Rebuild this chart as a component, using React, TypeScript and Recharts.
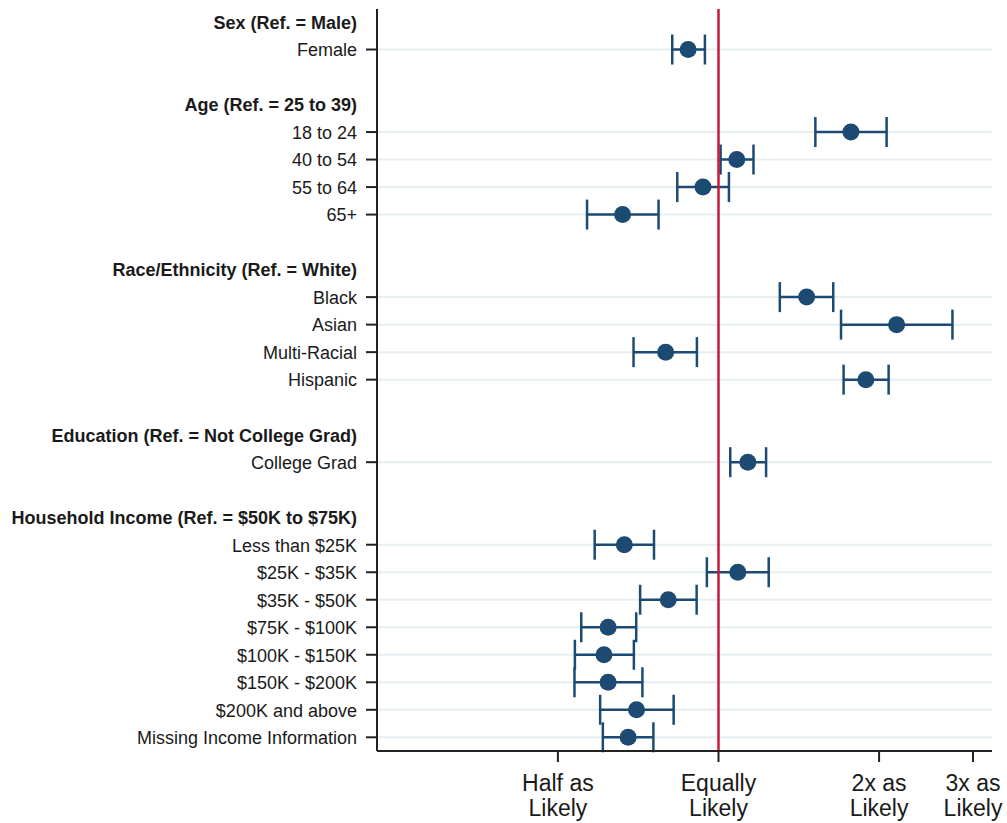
import { ScatterChart, Scatter, XAxis, YAxis, ErrorBar, ReferenceLine } from 'recharts';

// rows top to bottom; empty string = spacer row, null estimate = group header
const rowLabels = [
  'Sex (Ref. = Male)', 'Female', '',
  'Age (Ref. = 25 to 39)', '18 to 24', '40 to 54', '55 to 64', '65+', '',
  'Race/Ethnicity (Ref. = White)', 'Black', 'Asian', 'Multi-Racial', 'Hispanic', '',
  'Education (Ref. = Not College Grad)', 'College Grad', '',
  'Household Income (Ref. = $50K to $75K)', 'Less than $25K', '$25K - $35K', '$35K - $50K',
  '$75K - $100K', '$100K - $150K', '$150K - $200K', '$200K and above', 'Missing Income Information',
];

const estimates = [
  null, 0.877, null,
  null, 1.771, 1.082, 0.935, 0.661, null,
  null, 1.463, 2.157, 0.796, 1.889, null,
  null, 1.135, null,
  null, 0.666, 1.087, 0.805, 0.621, 0.61, 0.621, 0.702, 0.677,
];

const lowerCI = [
  null, 0.819, null,
  null, 1.519, 1.009, 0.837, 0.567, null,
  null, 1.303, 1.697, 0.693, 1.716, null,
  null, 1.052, null,
  null, 0.586, 0.951, 0.713, 0.553, 0.538, 0.537, 0.6, 0.607,
];

const upperCI = [
  null, 0.943, null,
  null, 2.066, 1.163, 1.046, 0.772, null,
  null, 1.641, 2.745, 0.911, 2.084, null,
  null, 1.228, null,
  null, 0.757, 1.242, 0.91, 0.701, 0.694, 0.72, 0.824, 0.755,
];

const xTicks = [0.5, 1, 2, 3];
const xTickLabels = [['Half as', 'Likely'], ['Equally', 'Likely'], ['2x as', 'Likely'], ['3x as', 'Likely']];

const FONT = '"Liberation Sans", Arial, sans-serif';
const DOT = '#1c4a72';

const points = estimates
  .map((est, i) => (est == null ? null : {
    row: i,
    est,
    err: [est - (lowerCI[i] as number), (upperCI[i] as number) - est],
  }))
  .filter((p) => p !== null) as { row: number; est: number; err: number[] }[];

const yTicks = rowLabels.map((l, i) => (l ? i : -1)).filter((i) => i >= 0);

const YTick = (props: any) => {
  const { x, y, payload } = props;
  const i = payload.value;
  const isHeader = estimates[i] == null;
  return (
    <g>
      {!isHeader && <line x1={x - 11} x2={x} y1={y} y2={y} stroke="#222" strokeWidth={2} />}
      <text
        x={x - 20}
        y={y}
        dy="0.38em"
        textAnchor="end"
        fontSize={18}
        fontFamily={FONT}
        fontWeight={isHeader ? 'bold' : 'normal'}
        fill="#1a1a1a"
      >
        {rowLabels[i]}
      </text>
    </g>
  );
};

const XTick = (props: any) => {
  const { x, y, payload } = props;
  const idx = xTicks.indexOf(payload.value);
  const lines = xTickLabels[idx] || [];
  return (
    <g>
      <line x1={x} x2={x} y1={y} y2={y + 11} stroke="#222" strokeWidth={2} />
      {lines.map((t, k) => (
        <text key={k} x={x} y={y + 40 + k * 24.5} textAnchor="middle" fontSize={23} fontFamily={FONT} fill="#1a1a1a">
          {t}
        </text>
      ))}
    </g>
  );
};

export default function App() {
  return (
    <div style={{ position: 'absolute', left: 0, top: 0, background: '#fff' }}>
      <ScatterChart width={1007} height={823} margin={{ top: 9, right: 15, left: 0, bottom: 0 }}>
        <XAxis
          type="number"
          dataKey="est"
          scale="log"
          domain={[0.229, 3.256]}
          allowDataOverflow
          ticks={xTicks}
          tick={<XTick />}
          tickLine={false}
          tickSize={0}
          tickMargin={0}
          height={72}
          axisLine={{ stroke: '#222', strokeWidth: 2 }}
        />
        <YAxis
          type="number"
          dataKey="row"
          reversed
          domain={[-0.4725, 26.498]}
          allowDataOverflow
          ticks={yTicks}
          interval={0}
          tick={<YTick />}
          tickLine={false}
          tickSize={0}
          tickMargin={0}
          width={377}
          axisLine={{ stroke: '#222', strokeWidth: 2 }}
        />
        {points.map((p) => (
          <ReferenceLine key={p.row} y={p.row} stroke="#e6eef2" strokeWidth={2} />
        ))}
        <Scatter
          data={points}
          isAnimationActive={false}
          shape={(s: any) => <circle cx={s.cx} cy={s.cy} r={8.5} fill={DOT} />}
        >
          <ErrorBar dataKey="err" direction="x" width={15} stroke={DOT} strokeWidth={2.5} />
        </Scatter>
        <ReferenceLine x={1} stroke="#c8193c" strokeWidth={2.5} />
      </ScatterChart>
    </div>
  );
}
